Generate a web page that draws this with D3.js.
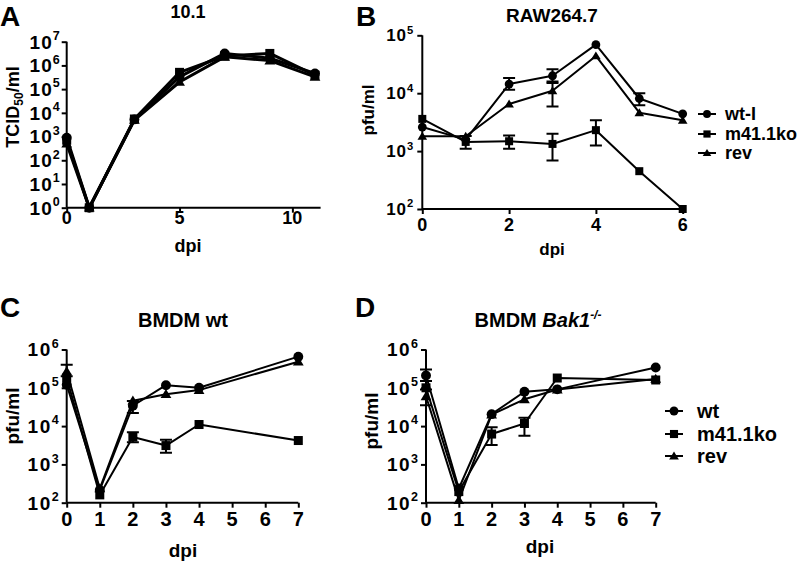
<!DOCTYPE html>
<html><head><meta charset="utf-8">
<script src="https://cdn.jsdelivr.net/npm/d3@7"></script>
<style>
body{margin:0;background:#fff;}
svg{display:block;font-family:"Liberation Sans",Arial,sans-serif;font-weight:bold;}
</style></head>
<body><svg id="c" width="800" height="562"></svg>
<script>
// ---------- data ----------
const seriesB = ["wt-I","m41.1ko","rev"];
const seriesD = ["wt","m41.1ko","rev"];

// Panel A (10.1, TCID50/ml)
const aDays = [0,1,3,5,7,9,11];
const aWt  = [900, 1, 5300, 330000, 3200000, 2000000, 460000];
const aM41 = [700, 1, 5500, 510000, 2500000, 3200000, 390000];
const aRev = [500, 1, 5000, 200000, 2300000, 1600000, 330000];
const aXTicks = [0,5,10];
const aYExp = [0,1,2,3,4,5,6,7];

// Panel B (RAW264.7, pfu/ml)
const bDays = [0,1,2,3,4,5,6];
const bWt  = [2600, 1580, 14400, 20000, 69000, 8100, 4400];
const bWtLo = [null, null, 11500, 15000, null, 6200, null];
const bWtHi = [null, null, 18300, 26000, null, 10000, null];
const bM41 = [3600, 1440, 1480, 1330, 2300, 450, 100];
const bM41Lo = [null, 1100, 1100, 690, 1250, null, null];
const bM41Hi = [null, 1820, 1860, 2000, 3400, null, null];
const bRev = [1800, 1800, 6500, 11000, 44000, 4600, 3400];
const bRevLo = [null, null, null, 5900, null, null, null];
const bRevHi = [null, null, null, 16000, null, null, null];
const bXTicks = [0,2,4,6];
const bYExp = [2,3,4,5];

// Panel C (BMDM wt)
const cDays = [0,1,2,3,4,7];
const cWt  = [120000, 215, 34000, 117000, 100000, 650000];
const cWtLo = [null, null, 22000, null, null, null];
const cWtHi = [null, null, 45000, null, null, null];
const cM41 = [180000, 160, 5200, 3100, 11000, 4200];
const cM41Lo = [null, null, 3800, 2000, null, null];
const cM41Hi = [null, null, 6900, 4400, null, null];
const cRev = [270000, 235, 46000, 68000, 87000, 480000];
const cRevLo = [200000, null, null, null, null, null];
const cRevHi = [400000, null, null, null, null, null];
const cdXTicks = [0,1,2,3,4,5,6,7];
const cdYExp = [2,3,4,5,6];

// Panel D (BMDM Bak1-/-)
const dDays = [0,1,2,3,4,7];
const dWt  = [210000, 235, 20500, 79000, 91000, 340000];
const dWtLo = [150000, null, null, null, null, null];
const dWtHi = [300000, null, null, null, null, null];
const dM41 = [100000, 195, 6200, 11700, 180000, 160000];
const dM41Lo = [null, null, 3200, 5600, null, null];
const dM41Hi = [null, null, 9300, 16500, null, null];
const dRev = [60000, 117, 20000, 50000, 90000, 170000];
const dRevLo = [35000, null, null, null, null, null];
const dRevHi = [90000, null, null, null, null, null];

// ---------- drawing ----------
const svg = d3.select("#c");

function mk(days, vals, lo, hi){
  return days.map((d,i)=>({x:d, y:vals[i], lo: lo?lo[i]:null, hi: hi?hi[i]:null}));
}

function marker(g, shape, x, y, s){
  if(shape==="circle"){
    g.append("circle").attr("cx",x).attr("cy",y).attr("r",s*0.55).attr("fill","#000");
  } else if(shape==="square"){
    g.append("rect").attr("x",x-s/2).attr("y",y-s/2).attr("width",s).attr("height",s).attr("fill","#000");
  } else {
    const h=s*0.95;
    g.append("path").attr("d",`M${x},${y-h*0.6}L${x+s*0.6},${y+h*0.45}L${x-s*0.6},${y+h*0.45}Z`).attr("fill","#000");
  }
}

function panel(cfg){
  const g = svg.append("g");
  const x = d3.scaleLinear().domain(cfg.xDom).range(cfg.xRange);
  const y = d3.scaleLog().domain(cfg.yDom).range(cfg.yRange);
  const x0 = cfg.xRange[0], yb = cfg.yRange[0];

  const xAxis = d3.axisBottom(x).tickValues(cfg.xTicks).tickSize(cfg.tick).tickFormat("");
  const gx = g.append("g").attr("transform",`translate(0,${yb})`).call(xAxis);
  const yAxis = d3.axisLeft(y).tickValues(cfg.yExp.map(e=>Math.pow(10,e))).tickSize(cfg.tick).tickFormat("");
  const gy = g.append("g").attr("transform",`translate(${x0},0)`).call(yAxis);
  [gx,gy].forEach(a=>{
    a.select(".domain").attr("stroke","#000").attr("stroke-width",cfg.axisW);
    a.selectAll(".tick line").attr("stroke","#000").attr("stroke-width",cfg.axisW);
  });
  gx.select(".domain").attr("d",`M${cfg.xRange[0]},0H${cfg.xRange[1]}`);
  gy.select(".domain").attr("d",`M0,${cfg.yRange[0]}V${cfg.yRange[1]}`);

  cfg.xTicks.forEach(t=>{
    g.append("text").attr("x",x(t)).attr("y",yb+cfg.xLabDy).attr("text-anchor","middle")
      .attr("font-size",cfg.xTickFs).text(t);
  });
  cfg.yExp.forEach(e=>{
    const t = g.append("text").attr("x",x0-cfg.yLabDx).attr("y",y(Math.pow(10,e))+cfg.tickFs*0.36)
      .attr("text-anchor","end").attr("font-size",cfg.tickFs);
    t.append("tspan").attr("letter-spacing",cfg.ls).text("10");
    t.append("tspan").attr("dy",-cfg.tickFs*0.45).attr("font-size",cfg.tickFs*0.66).text(e);
  });

  const shapes = ["circle","square","triangle"];
  cfg.series.forEach((s,si)=>{
    const line = d3.line().x(d=>x(d.x)).y(d=>y(d.y));
    g.append("path").datum(s).attr("d",line).attr("fill","none").attr("stroke","#000")
      .attr("stroke-width",cfg.lineW).attr("stroke-linejoin","round");
  });
  cfg.series.forEach((s,si)=>{
    s.forEach(d=>{
      if(d.lo!=null && d.hi!=null){
        const cx=x(d.x), cw=cfg.cap;
        g.append("path").attr("d",`M${cx},${y(d.lo)}V${y(d.hi)}M${cx-cw},${y(d.lo)}H${cx+cw}M${cx-cw},${y(d.hi)}H${cx+cw}`)
          .attr("stroke","#000").attr("stroke-width",2).attr("fill","none");
      }
      marker(g, shapes[si], x(d.x), y(d.y), cfg.mSize);
    });
  });

  const tt = g.append("text").attr("x",cfg.title[1]).attr("y",cfg.title[2]).attr("text-anchor","middle")
    .attr("font-size",cfg.titleFs);
  cfg.title[0](tt);
  g.append("text").attr("x",cfg.letter[1]).attr("y",cfg.letter[2]).attr("font-size",28).text(cfg.letter[0]);
  g.append("text").attr("x",cfg.dpi[0]).attr("y",cfg.dpi[1]).attr("text-anchor","middle")
    .attr("font-size",cfg.labFs).text("dpi");
  const yl = g.append("text").attr("transform",`translate(${cfg.ylab[1]},${cfg.ylab[2]}) rotate(-90)`)
    .attr("text-anchor","middle").attr("font-size",cfg.labFs);
  cfg.ylab[0](yl);

  if(cfg.legend){
    const L = cfg.legend;
    L.names.forEach((n,i)=>{
      const ly = L.y[i];
      g.append("line").attr("x1",L.x).attr("x2",L.x+L.w).attr("y1",ly).attr("y2",ly)
        .attr("stroke","#000").attr("stroke-width",2);
      marker(g, shapes[i], L.x+L.w/2, ly, cfg.mSize*0.9);
      g.append("text").attr("x",L.tx).attr("y",ly+L.fs*0.36).attr("font-size",L.fs).text(n);
    });
  }
}

panel({
  xDom:[0,11.25], xRange:[66.7,320.6], yDom:[1,1e7], yRange:[207.7,41.7],
  xTicks:aXTicks, yExp:aYExp, tick:5, axisW:2, lineW:3, mSize:9, cap:5,
  tickFs:19, xTickFs:18, ls:1, xLabDy:16, yLabDx:7, titleFs:18, labFs:18,
  series:[mk(aDays,aWt),mk(aDays,aM41),mk(aDays,aRev)],
  title:[t=>t.text("10.1"),188,18], letter:["A",0,26], dpi:[188,252],
  ylab:[t=>{t.append("tspan").text("TCID");t.append("tspan").attr("font-size",12).attr("dy",4).text("50");t.append("tspan").attr("dy",-4).text("/ml");},19,107]
});

panel({
  xDom:[0,6], xRange:[422.3,682.7], yDom:[100,1e5], yRange:[209,35.3],
  xTicks:bXTicks, yExp:bYExp, tick:5, axisW:2, lineW:2, mSize:8, cap:6,
  tickFs:17, xTickFs:18, ls:1, xLabDy:22, yLabDx:9, titleFs:19, labFs:17,
  series:[mk(bDays,bWt,bWtLo,bWtHi),mk(bDays,bM41,bM41Lo,bM41Hi),mk(bDays,bRev,bRevLo,bRevHi)],
  title:[t=>t.text("RAW264.7"),552,22], letter:["B",356,26], dpi:[552,255],
  ylab:[t=>t.text("pfu/ml"),374,110],
  legend:{names:seriesB, x:698, w:18, tx:725, y:[114,134,153], fs:18}
});

panel({
  xDom:[0,7], xRange:[66.7,298.3], yDom:[100,1e6], yRange:[502.7,349.5],
  xTicks:cdXTicks, yExp:cdYExp, tick:5, axisW:2, lineW:2, mSize:9, cap:6,
  tickFs:19, xTickFs:20, ls:1.5, xLabDy:23, yLabDx:8, titleFs:20, labFs:19,
  series:[mk(cDays,cWt,cWtLo,cWtHi),mk(cDays,cM41,cM41Lo,cM41Hi),mk(cDays,cRev,cRevLo,cRevHi)],
  title:[t=>t.text("BMDM wt"),183,327], letter:["C",0,317], dpi:[183,557],
  ylab:[t=>t.text("pfu/ml"),19,416]
});

panel({
  xDom:[0,7], xRange:[426,655.7], yDom:[100,1e6], yRange:[502.7,349.5],
  xTicks:cdXTicks, yExp:cdYExp, tick:5, axisW:2, lineW:2, mSize:9, cap:6,
  tickFs:19, xTickFs:20, ls:1.5, xLabDy:23, yLabDx:8, titleFs:20, labFs:19,
  series:[mk(dDays,dWt,dWtLo,dWtHi),mk(dDays,dM41,dM41Lo,dM41Hi),mk(dDays,dRev,dRevLo,dRevHi)],
  title:[t=>{t.append("tspan").text("BMDM ");t.append("tspan").attr("font-style","italic").text("Bak1");t.append("tspan").attr("font-size",12).attr("dy",-8).attr("font-style","italic").text("-/-");},538,327],
  letter:["D",355,317], dpi:[540,553],
  ylab:[t=>t.text("pfu/ml"),378,421],
  legend:{names:seriesD, x:665, w:18, tx:697, y:[411,434,456], fs:20}
});
</script></body></html>
